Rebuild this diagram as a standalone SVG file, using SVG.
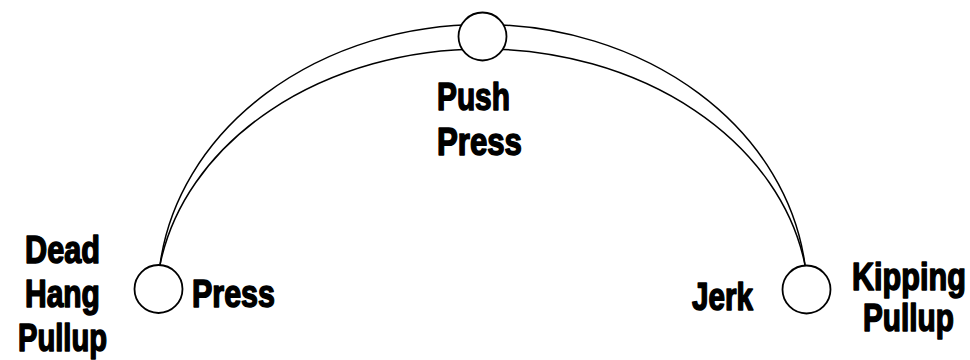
<svg xmlns="http://www.w3.org/2000/svg" width="970" height="360" viewBox="0 0 970 360">
<style>
.arc{fill:none;stroke:#000;stroke-width:1.5}
.node{fill:#fff;stroke:#000;stroke-width:1.8}
.lbl{font-family:"Liberation Sans",Arial,sans-serif;font-weight:bold;font-size:39px;fill:#000;stroke:#000;stroke-width:1.6;stroke-linejoin:round}
</style>
<rect width="970" height="360" fill="#fff"/>
<g id="connectors">
<path class="arc" d="M160,265 A324.5,270.5 0 0 1 805,265"/>
<path class="arc" d="M160,265 A326.5,256 0 0 1 805,265"/>
</g>
<g id="node-left">
<circle class="node" cx="158.5" cy="289" r="24"/>
<text class="lbl" transform="translate(25,263) scale(0.786,1)">Dead</text>
<text class="lbl" transform="translate(25,307) scale(0.769,1)">Hang</text>
<text class="lbl" transform="translate(18,351) scale(0.747,1)">Pullup</text>
<text class="lbl" transform="translate(192,307) scale(0.781,1)">Press</text>
</g>
<g id="node-top">
<circle class="node" cx="482.5" cy="36.5" r="24"/>
<text class="lbl" transform="translate(437,110) scale(0.765,1)">Push</text>
<text class="lbl" transform="translate(437,155) scale(0.8,1)">Press</text>
</g>
<g id="node-right">
<circle class="node" cx="806.5" cy="289.5" r="24"/>
<text class="lbl" transform="translate(692,310) scale(0.76,1)">Jerk</text>
<text class="lbl" transform="translate(852,290) scale(0.785,1)">Kipping</text>
<text class="lbl" transform="translate(863,331) scale(0.763,1)">Pullup</text>
</g>
</svg>
